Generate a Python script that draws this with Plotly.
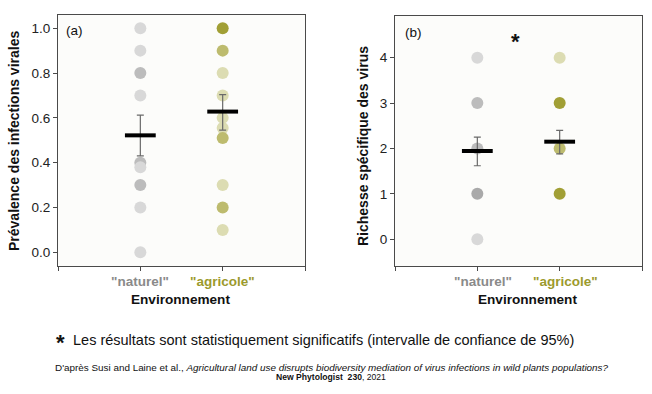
import plotly.graph_objects as go

# ---------------- data ----------------
categories = ['"naturel"', '"agricole"']

# Panel (a): prevalence of viral infections (value, number of overlapping points)
prev_nat_vals = [1.0, 0.9, 0.8, 0.7, 0.40, 0.38, 0.3, 0.2, 0.0]
prev_nat_counts = [1, 1, 2, 1, 2, 1, 2, 1, 1]
prev_agr_vals = [1.0, 0.9, 0.8, 0.7, 0.6, 0.555, 0.51, 0.3, 0.2, 0.1]
prev_agr_counts = [3, 2, 1, 1, 1, 1, 2, 1, 2, 1]
prev_means = [0.522, 0.628]
prev_err_hi = [0.612, 0.704]
prev_err_lo = [0.430, 0.545]

# Panel (b): virus species richness
rich_nat_vals = [4, 3, 2, 1, 0]
rich_nat_counts = [1, 2, 2, 3, 1]
rich_agr_vals = [4, 3, 2, 1]
rich_agr_counts = [1, 3, 2, 3]
rich_means = [1.945, 2.15]
rich_err_hi = [2.25, 2.40]
rich_err_lo = [1.62, 1.88]

prev_ticks = [0.0, 0.2, 0.4, 0.6, 0.8, 1.0]
prev_ticklabels = ["0.0", "0.2", "0.4", "0.6", "0.8", "1.0"]
rich_ticks = [0, 1, 2, 3, 4]
rich_ticklabels = ["0", "1", "2", "3", "4"]

# ---------------- styling ----------------
FONT = "Arial, Liberation Sans, sans-serif"
gray_shades = {1: "#d8d8d8", 2: "#bcbcbc", 3: "#a9a9a9"}
olive_shades = {1: "#dcdcb2", 2: "#bdbb6e", 3: "#a19f35"}
NAT_LABEL = "#8a8a8a"
AGR_LABEL = "#9c9a2c"

fig = go.Figure()


def add_points(vals, counts, xpos, shades, xa, ya):
    fig.add_trace(go.Scatter(
        x=[xpos] * len(vals), y=vals, mode="markers",
        marker=dict(size=12, color=[shades[c] for c in counts], line=dict(width=0)),
        xaxis=xa, yaxis=ya, showlegend=False, hoverinfo="y"))


def add_mean(means, hi, lo, xa, ya):
    fig.add_trace(go.Scatter(
        x=[0, 1], y=means, mode="markers",
        marker=dict(symbol="line-ew", size=22, line=dict(width=4, color="black")),
        error_y=dict(type="data", symmetric=False,
                     array=[h - m for h, m in zip(hi, means)],
                     arrayminus=[m - l for m, l in zip(means, lo)],
                     color="#6a6a6a", thickness=1.2, width=3.5),
        xaxis=xa, yaxis=ya, showlegend=False, hoverinfo="y"))


add_points(prev_nat_vals, prev_nat_counts, 0, gray_shades, "x", "y")
add_points(prev_agr_vals, prev_agr_counts, 1, olive_shades, "x", "y")
add_mean(prev_means, prev_err_hi, prev_err_lo, "x", "y")

add_points(rich_nat_vals, rich_nat_counts, 0, gray_shades, "x2", "y2")
add_points(rich_agr_vals, rich_agr_counts, 1, olive_shades, "x2", "y2")
add_mean(rich_means, rich_err_hi, rich_err_lo, "x2", "y2")

W, H = 652, 394


def px(v):
    return v / W


def py(v):
    return 1 - v / H


axis_common = dict(showgrid=False, zeroline=False, showline=True, linecolor="#4a4a4a",
                   linewidth=1, mirror=True, ticks="outside", ticklen=4,
                   tickcolor="#4a4a4a", tickfont=dict(family=FONT, size=13.5, color="#222"))

fig.update_layout(
    width=W, height=H,
    margin=dict(l=0, r=0, t=0, b=0),
    paper_bgcolor="white", plot_bgcolor="#fcfcfa",
    font=dict(family=FONT),
    xaxis=dict(domain=[px(58), px(305)], range=[-1, 2], tickvals=[-1, 0, 1, 2],
               showticklabels=False, anchor="y", **axis_common),
    yaxis=dict(domain=[py(266), py(15)], range=[-0.061, 1.059], tickvals=prev_ticks,
               ticktext=prev_ticklabels, anchor="x", **axis_common),
    xaxis2=dict(domain=[px(395), px(642)], range=[-1, 2], tickvals=[-1, 0, 1, 2],
                showticklabels=False, anchor="y2", **axis_common),
    yaxis2=dict(domain=[py(266), py(16)], range=[-0.59, 4.92], tickvals=rich_ticks,
                ticktext=rich_ticklabels, anchor="x2", **axis_common),
)


def note(x, y, text, size, color="#111", xanchor="center", xref="paper", yref="paper", **kw):
    return dict(x=x, y=y, xref=xref, yref=yref, text=text, showarrow=False,
                xanchor=xanchor, yanchor="middle",
                font=dict(family=FONT, size=size, color=color), **kw)


ann = []
# y-axis titles
ann.append(note(px(14), py(141), "<b>Prévalence des infections virales</b>", 14, textangle=-90))
ann.append(note(px(363), py(146), "<b>Richesse spécifique des virus</b>", 14, textangle=-90))
# panel letters
ann.append(note(px(64), py(31), "(a)", 13.5, xanchor="left"))
ann.append(note(px(403), py(32), "(b)", 13.5, xanchor="left"))
# category labels & x titles
for xr, shift, cx in (("x", 0, 180.5), ("x2", 6, 527)):
    ann.append(note(0, py(281), "<b>" + categories[0] + "</b>", 13.5, color=NAT_LABEL,
                    xref=xr, xshift=shift))
    ann.append(note(1, py(281), "<b>" + categories[1] + "</b>", 13.5, color=AGR_LABEL,
                    xref=xr, xshift=shift))
    ann.append(note(px(cx), py(299), "<b>Environnement</b>", 13.6))
# significance star in panel (b)
ann.append(note(0.46, 4.36, "<b>*</b>", 22, xref="x2", yref="y2"))
# footnote
ann.append(note(px(54), py(342), "<b>*</b>", 22, xanchor="left"))
ann.append(note(px(71), py(340),
                "Les résultats sont statistiquement significatifs (intervalle de confiance de 95%)",
                14.5, xanchor="left"))
ann.append(note(px(332), py(367),
                "D'après Susi and Laine et al., <i>Agricultural land use disrupts biodiversity "
                "mediation of virus infections in wild plants populations?</i>", 9.9))
ann.append(note(px(331), py(377), "<b>New Phytologist  230</b>, 2021", 8.6))

fig.update_layout(annotations=ann)
fig.write_html("out.html", config={"displayModeBar": False},
               post_script="document.body.style.margin='0px';")
